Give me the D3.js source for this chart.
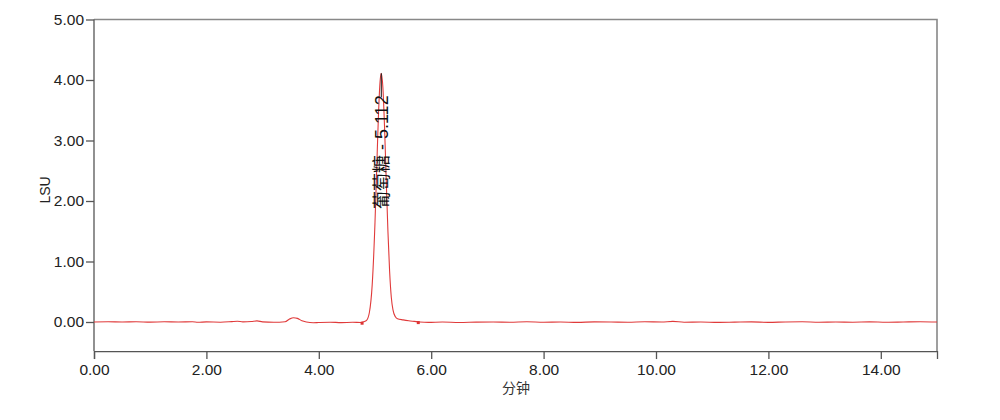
<!DOCTYPE html>
<html><head><meta charset="utf-8">
<script src="https://cdn.jsdelivr.net/npm/d3@7/dist/d3.min.js"></script>
<style>
body{margin:0;background:#fff;}
svg text{font-family:"Liberation Sans",Arial,sans-serif;}
</style></head>
<body><svg id="c" width="1000" height="420"></svg>
<script>
// ---- data ----
const times = [0.00,0.25,0.50,0.75,1.00,1.25,1.50,1.75,1.85,2.00,2.25,2.45,2.55,2.65,2.80,2.90,3.00,3.20,3.40,3.48,3.55,3.62,3.70,3.78,3.90,4.00,4.20,4.40,4.60,4.75,4.80,4.85,4.90,4.95,5.00,5.03,5.06,5.09,5.112,5.14,5.17,5.20,5.23,5.26,5.29,5.32,5.36,5.40,5.50,5.60,5.70,5.80,5.95,6.20,6.50,6.80,7.10,7.40,7.70,8.00,8.30,8.60,8.90,9.20,9.50,9.80,10.10,10.30,10.50,10.80,11.10,11.40,11.70,12.00,12.30,12.60,12.90,13.20,13.50,13.80,14.10,14.40,14.70,15.00];
const values = [0.000,0.003,0.000,0.004,-0.002,0.003,0.000,0.005,-0.005,0.002,-0.003,0.006,0.012,0.002,0.008,0.018,0.002,-0.005,0.005,0.050,0.070,0.060,0.020,0.000,-0.012,-0.008,-0.003,-0.010,-0.005,-0.008,0.005,0.028,0.157,0.614,1.650,2.520,3.380,3.970,4.110,3.880,3.220,2.340,1.500,0.840,0.410,0.200,0.090,0.055,0.035,0.020,0.010,0.000,-0.006,0.000,-0.008,-0.002,0.000,-0.005,0.004,-0.003,0.000,-0.006,0.002,0.000,-0.004,0.003,0.000,0.010,-0.003,0.000,-0.006,-0.002,0.002,-0.006,0.000,0.003,-0.004,0.000,-0.003,0.002,-0.004,0.000,0.004,0.000];
const xTicks = [0,2,4,6,8,10,12,14];
const yTicks = [0,1,2,3,4,5];
const peakTime = 5.112, peakValue = 4.11, peakName = "葡萄糖 - 5.112";
const baselineMarks = [[4.77,-0.02],[5.77,-0.01]];
const xLabel = "分钟", yLabel = "LSU";

// ---- drawing ----
const svg = d3.select("#c");
const L=94, R=937, T=19.5;
const x = d3.scaleLinear().domain([0,15]).range([L,R]);
const y = d3.scaleLinear().domain([0,5]).range([322,T]);
const yBottom = y(-0.48);

const axisCol="#555";
svg.append("path").attr("d",`M${L},${T}H${R}V${yBottom}`).attr("fill","none").attr("stroke","#888").attr("stroke-width",1.6);

// x axis
const gx = svg.append("g").attr("transform",`translate(0,${yBottom})`);
gx.call(d3.axisBottom(x).tickValues(d3.range(0,15.01,0.5)).tickSize(5).tickFormat(""))
  .call(g=>g.select(".domain").remove());
gx.call(d3.axisBottom(x).tickValues(xTicks).tickSize(8).tickPadding(5).tickFormat(d3.format(".2f")));
gx.selectAll("line,path").attr("stroke",axisCol).attr("stroke-width",1.3);
gx.selectAll("text").attr("font-size",15.5).attr("fill","#222");

// y axis
const gy = svg.append("g").attr("transform",`translate(${L},0)`);
gy.call(d3.axisLeft(y).tickValues(d3.range(-0.4,5.01,0.2).map(v=>+v.toFixed(2))).tickSize(5).tickFormat(""))
  .call(g=>g.select(".domain").remove());
gy.call(d3.axisLeft(y).tickValues(yTicks).tickSize(8).tickPadding(2).tickFormat(d3.format(".2f")));
gy.select(".domain").attr("d",`M0,${T}V${yBottom}`);
gy.selectAll("line,path").attr("stroke",axisCol).attr("stroke-width",1.3);
gy.selectAll("text").attr("font-size",15.5).attr("fill","#222");

// axis titles
svg.append("text").attr("x",516).attr("y",393).attr("text-anchor","middle")
  .attr("font-size",14).attr("fill","#333").style("font-family","'Noto Sans CJK SC',sans-serif").text(xLabel);
svg.append("text").attr("transform","translate(50,190) rotate(-90)").attr("text-anchor","middle")
  .attr("font-size",14).attr("fill","#222").text(yLabel);

// signal
const pts = times.map((t,i)=>[t,values[i]]);
svg.append("path").datum(pts)
  .attr("d",d3.line().x(d=>x(d[0])).y(d=>y(d[1])).curve(d3.curveMonotoneX))
  .attr("fill","none").attr("stroke","#e03a3a").attr("stroke-width",1.1);

// baseline marks
svg.selectAll(".bm").data(baselineMarks).join("rect")
  .attr("x",d=>x(d[0])-1.5).attr("y",d=>y(d[1])-1.5).attr("width",3).attr("height",3).attr("fill","#d33");

// peak label
const px = x(peakTime), py = y(peakValue);
svg.append("line").attr("x1",px).attr("x2",px).attr("y1",py).attr("y2",py+24).attr("stroke","#111").attr("stroke-width",1);
svg.append("text").attr("transform",`translate(${px+7},${py+22}) rotate(-90)`).attr("text-anchor","end")
  .attr("font-size",18).attr("fill","#111")
  .style("font-family","'Liberation Sans','Noto Sans CJK SC',sans-serif").text(peakName);
</script></body></html>
